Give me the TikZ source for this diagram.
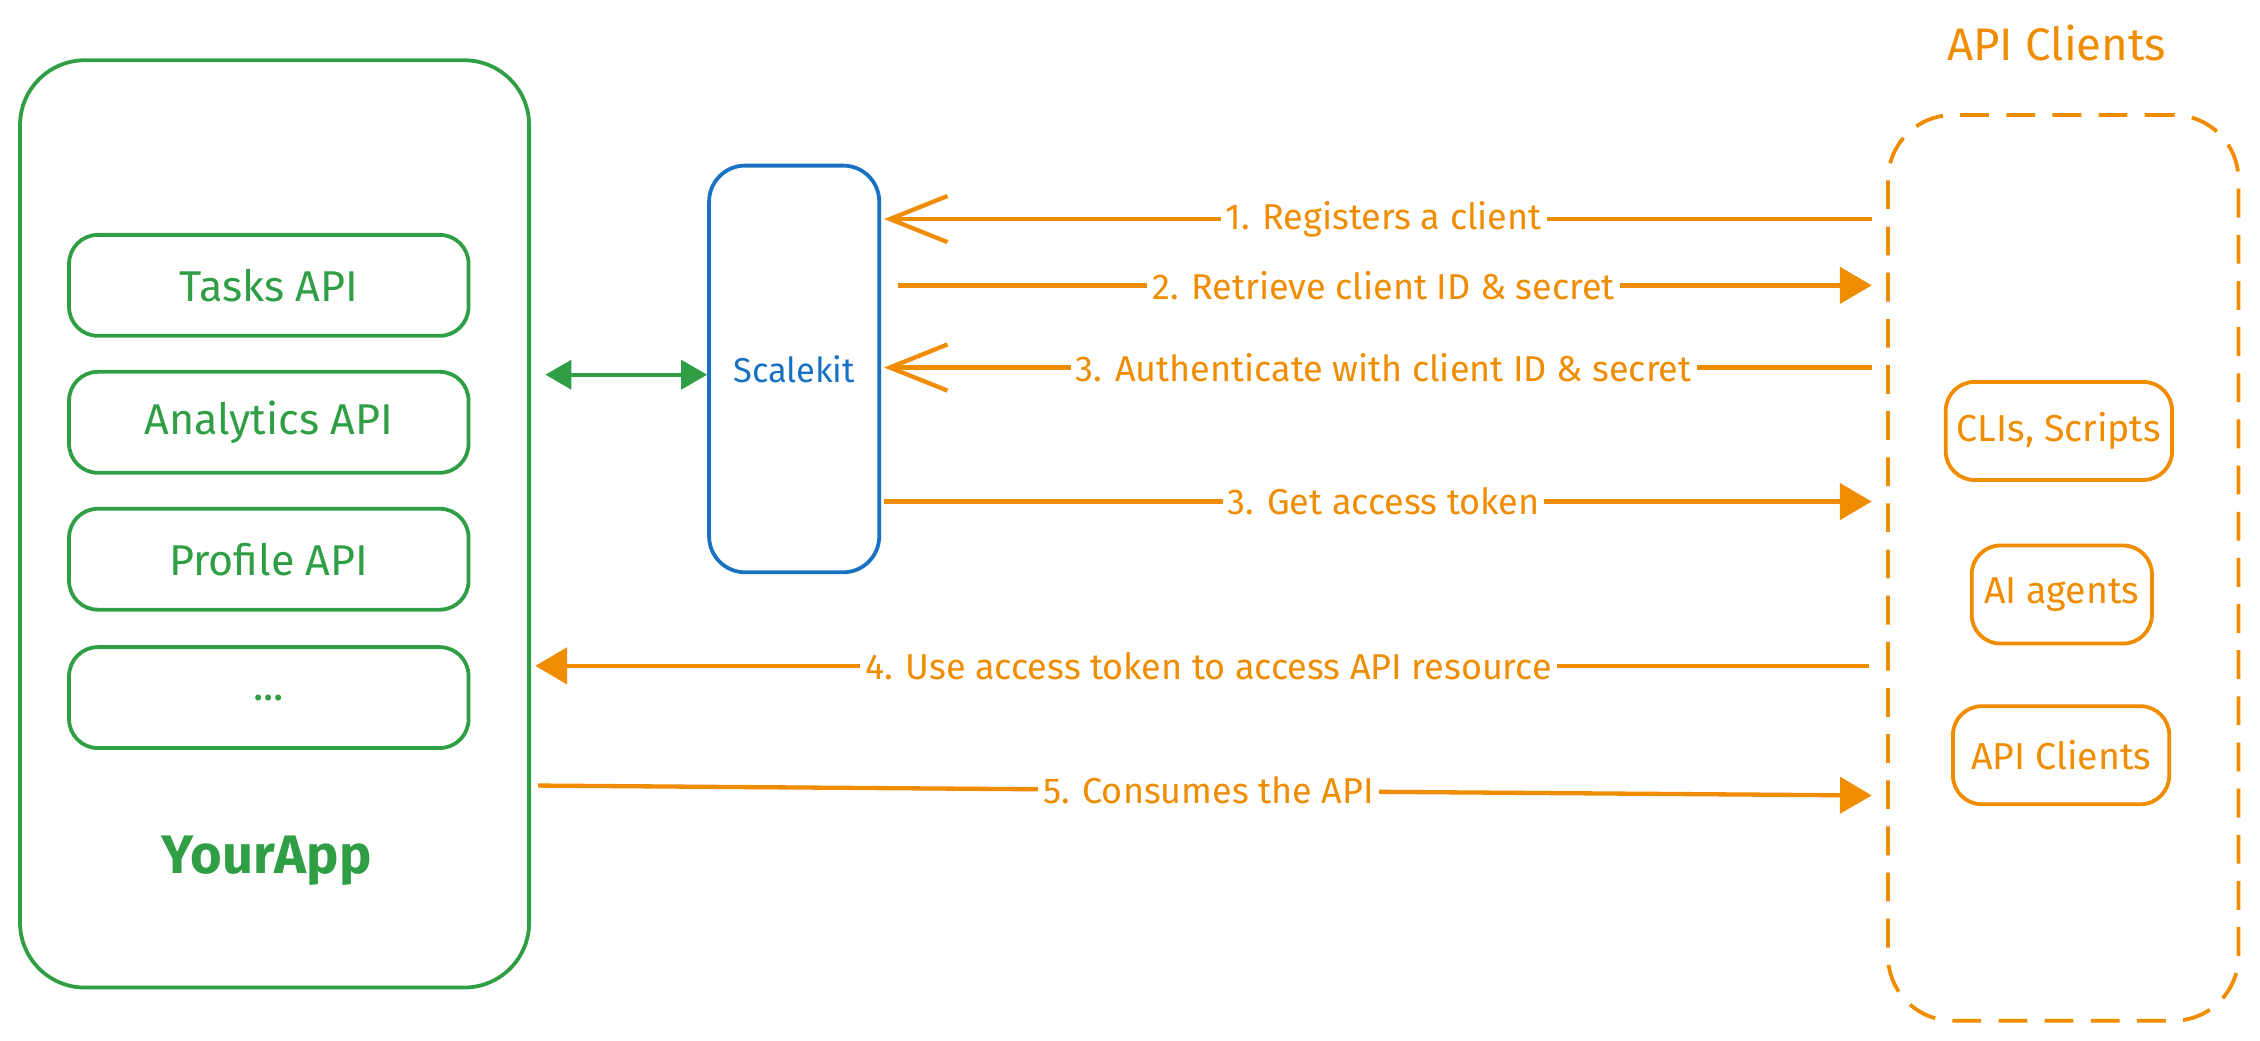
\documentclass[tikz,border=0pt]{standalone}
\usepackage{fontspec}
\setmainfont{Fira Sans}
\usetikzlibrary{arrows.meta}
\definecolor{appgreen}{HTML}{2F9E44}
\definecolor{skblue}{HTML}{1971C2}
\definecolor{cliorange}{HTML}{F08C00}

\begin{document}
\begin{tikzpicture}[x=0.01cm,y=-0.01cm]
\tikzstyle{every node}+=[inner sep=0pt]
\tikzstyle{box}=[draw, line width=0.75pt, rounded corners=0.2cm]
\tikzstyle{api}=[box, appgreen, text=appgreen, minimum width=2.77cm, minimum height=0.7cm, font=\fontsize{8.5}{10}\selectfont]
\tikzstyle{cli}=[box, cliorange, text=cliorange, minimum height=0.68cm, font=\fontsize{7.4}{9}\selectfont]
\tikzstyle{flow}=[cliorange, line width=0.85pt]
\tikzstyle{lbl}=[fill=white, inner xsep=1pt, inner ysep=2pt, text=cliorange, font=\fontsize{7.1}{8}\selectfont]
\useasboundingbox (0,0) rectangle (1568,722);
% YourApp side
\node [box, appgreen, rounded corners=0.45cm, minimum width=3.53cm, minimum height=6.43cm] (app) at (190.5,363.5) {};
\node [api] (tasks) at (186.5,198) {Tasks API};
\node [api] (analytics) at (186.5,293) {Analytics API};
\node [api] (profile) at (186.5,388) {Profile API};
\node [api] (more) at (186.5,484) {...};
\node [text=appgreen, font=\fontsize{10.7}{12}\selectfont\bfseries] (appname) at (185,597) {YourApp};
% Scalekit
\node [box, skblue, text=skblue, rounded corners=0.25cm, minimum width=1.18cm, minimum height=2.82cm, font=\fontsize{6.8}{8}\selectfont] (sk) at (551,256) {Scalekit};
\draw [appgreen, line width=0.85pt, {Triangle[length=0.18cm,width=0.2cm]}-{Triangle[length=0.18cm,width=0.2cm]}, shorten <=0.1cm] (app.east |- 0,260) -- (sk.west |- 0,260);
% API clients
\node [draw, cliorange, line width=0.75pt, dash pattern=on 0.2cm off 0.12cm, rounded corners=0.45cm, minimum width=2.43cm, minimum height=6.28cm] (clients) at (1431.5,394) {};
\node [text=cliorange, font=\fontsize{9}{11}\selectfont] (title) at (1427,30) {API Clients};
\node [cli, minimum width=1.57cm] (scripts) at (1428.5,299) {CLIs, Scripts};
\node [cli, minimum width=1.25cm] (agents) at (1430.5,412.5) {AI agents};
\node [cli, minimum width=1.5cm] (apiclients) at (1430,524) {API Clients};
% flows
\draw [flow, -{Straight Barb[length=0.4cm,width=0.32cm]}, shorten <=0.1cm, shorten >=0.02cm] (clients.west |- 0,152) -- node [lbl] {1. Registers a client} (sk.east |- 0,152);
\draw [flow, -{Triangle[length=0.22cm,width=0.25cm]}, shorten <=0.12cm, shorten >=0.1cm] (sk.east |- 0,198) -- node [lbl] {2. Retrieve client ID \& secret} (clients.west |- 0,198);
\draw [flow, -{Straight Barb[length=0.4cm,width=0.32cm]}, shorten <=0.1cm, shorten >=0.02cm] (clients.west |- 0,255) -- node [lbl] {3. Authenticate with client ID \& secret} (sk.east |- 0,255);
\draw [flow, -{Triangle[length=0.22cm,width=0.25cm]}, shorten <=0.02cm, shorten >=0.1cm] (sk.east |- 0,348) -- node [lbl] {3. Get access token} (clients.west |- 0,348);
\draw [flow, -{Triangle[length=0.22cm,width=0.25cm]}, shorten <=0.12cm, shorten >=0.03cm] (clients.west |- 0,462) -- node [lbl] {4. Use access token to access API resource} (app.east |- 0,462);
\draw [flow, -{Triangle[length=0.22cm,width=0.25cm]}, shorten <=0.05cm, shorten >=0.1cm] (app.east |- 0,545) -- node [lbl] {5. Consumes the API} (clients.west |- 0,552);
\end{tikzpicture}
\end{document}
